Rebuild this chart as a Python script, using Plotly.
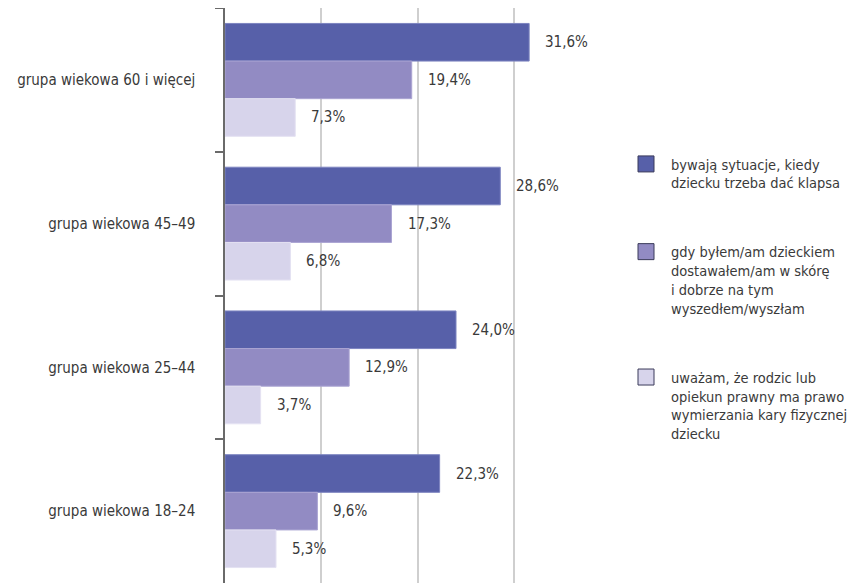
import plotly.graph_objects as go

categories = ["grupa wiekowa 60 i więcej", "grupa wiekowa 45–49",
              "grupa wiekowa 25–44", "grupa wiekowa 18–24"]
series_names = [
    "bywają sytuacje, kiedy<br>dziecku trzeba dać klapsa",
    "gdy byłem/am dzieckiem<br>dostawałem/am w skórę<br>i dobrze na tym<br>wyszedłem/wyszłam",
    "uważam, że rodzic lub<br>opiekun prawny ma prawo<br>wymierzania kary fizycznej<br>dziecku",
]
klaps = [31.6, 28.6, 24.0, 22.3]
skora = [19.4, 17.3, 12.9, 9.6]
prawo = [7.3, 6.8, 3.7, 5.3]
series_values = [klaps, skora, prawo]
colors = ["#5760a9", "#928bc3", "#d7d4eb"]
edge_colors = ["#7d84c0", "#aba5d3", "#e4e2f2"]

# page body has an 8px default margin: figure is drawn 8px right/down
OFF = 8
W, H = 857 - OFF, 585 - OFF
margin = dict(l=225 - OFF, r=W - (610 - OFF), t=8 - OFF, b=H - (583 - OFF))
bargap = 0.215
FONT = "DejaVu Sans Condensed, Liberation Sans, sans-serif"
TXT = "#3a3a3a"
FS = 15
LFS = 14.5

fig = go.Figure()
for name, vals, col, ec in zip(series_names, series_values, colors, edge_colors):
    fig.add_trace(go.Bar(
        y=categories, x=vals, orientation="h", marker_color=col,
        marker_line=dict(color=ec, width=1), showlegend=False, hoverinfo="skip",
    ))
    fig.add_trace(go.Scatter(
        x=[None], y=[None], mode="markers", name=name,
        marker=dict(symbol="square", size=16, color=col,
                    line=dict(color="#3b3b5a", width=1)),
        legendgroup=name,
    ))

plot_h = H - margin["t"] - margin["b"]
bar_px = plot_h / len(categories) * (1 - bargap) / len(series_values)
annotations = []
for i, vals in enumerate(series_values):
    shift = (1 - i) * bar_px
    for cat, v in zip(categories, vals):
        annotations.append(dict(
            x=v, y=cat, xref="x", yref="y", text=f"{v:.1f}%".replace(".", ","),
            showarrow=False, xanchor="left", yanchor="middle",
            xshift=14, yshift=shift,
            font=dict(family=FONT, size=FS, color=TXT),
        ))

fig.update_layout(
    width=W, height=H, margin=margin,
    barmode="group", bargap=bargap, bargroupgap=0,
    plot_bgcolor="white", paper_bgcolor="white",
    annotations=annotations,
    font=dict(family=FONT, size=FS, color=TXT),
    legend=dict(
        xref="container", yref="container",
        x=(621 - OFF) / W, y=1 - (148 - OFF) / H, xanchor="left", yanchor="top",
        traceorder="grouped", tracegroupgap=47, valign="top",
        itemwidth=40, maxheight=1,
        font=dict(family=FONT, size=LFS, color=TXT),
        bgcolor="rgba(0,0,0,0)",
    ),
    xaxis=dict(range=[0, 40], dtick=10, showticklabels=False,
               showgrid=True, gridcolor="#cfcfcf", gridwidth=1.5,
               zeroline=False, showline=False, fixedrange=True,
               automargin=False),
    yaxis=dict(autorange="reversed", showline=True, linecolor="#6a6a6a",
               linewidth=1.5, ticks="outside", ticklen=8, tickcolor="#6a6a6a",
               tickwidth=1.5, tickson="boundaries", ticklabelstandoff=25,
               showgrid=False, zeroline=False, automargin=False,
               tickfont=dict(family=FONT, size=FS, color=TXT)),
)

fig.write_html("out.html")
